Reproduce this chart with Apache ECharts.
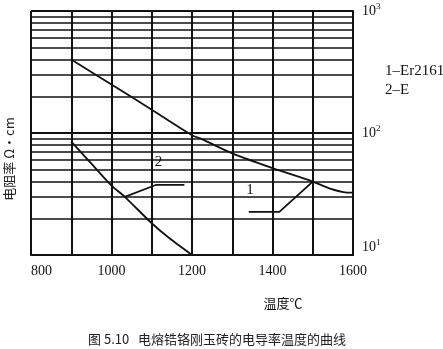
<!DOCTYPE html>
<html><head><meta charset="utf-8">
<script src="https://cdn.jsdelivr.net/npm/echarts@6/dist/echarts.min.js"></script>
<style>html,body{margin:0;padding:0;background:#fff}#c{width:443px;height:349px}</style>
</head><body><div id="c"></div>
<script>
// Temperature axis ticks (°C) and resistivity decades
const xTicks = [800, 900, 1000, 1100, 1200, 1300, 1400, 1500, 1600];
const yDecades = [10, 100, 1000];
const yMinorLines = [20, 30, 40, 50, 60, 70, 80, 90, 200, 300, 400, 500, 600, 700, 800, 900];

// Curve 1 (main, Er2161)
const c1Temp = [900, 1000, 1100, 1200, 1222, 1300, 1400, 1500, 1541, 1585, 1600];
const c1Val  = [400, 250, 155, 96, 90, 68, 51.5, 40, 35.2, 32.5, 32.4];
// Curve 1 branch
const c1bTemp = [1341, 1417, 1500];
const c1bVal  = [22.6, 22.6, 40];
// Curve 2 (main, E)
const c2Temp = [900, 950, 1000, 1033, 1100, 1144, 1200];
const c2Val  = [85, 56, 37, 30, 18.2, 13.7, 10];
// Curve 2 branch
const c2bTemp = [1033, 1110, 1181];
const c2bVal  = [30, 37.5, 37.5];
// Curve number labels position (data coords)
const lab1 = [1344, 34];
const lab2 = [1117, 57.8];

const zip = (a, b) => a.map((x, i) => [x, b[i]]);
const black = '#111';
const serif = '"Liberation Serif", "DejaVu Serif", serif';
const cjk = '"Noto Sans CJK SC", sans-serif';

const chart = echarts.init(document.getElementById('c'), null, {renderer: 'canvas'});
const lineStyle = {color: black, width: 1.8};
const numLabel = t => ({coord: t.pos, symbol: 'rect', symbolSize: 1,
  itemStyle: {color: 'rgba(0,0,0,0)'},
  label: {show: true, position: 'inside', formatter: t.text, fontFamily: serif, fontSize: 15, color: '#111'}});
chart.setOption({
  animation: false,
  backgroundColor: '#fff',
  grid: {left: 31, right: 90, top: 11, bottom: 94, outerBoundsMode: 'none', containLabel: false},
  title: {
    text: '图 5.10   电熔锆铬刚玉砖的电导率温度的曲线',
    left: 83, top: 328,
    textStyle: {fontFamily: cjk, fontSize: 13, fontWeight: 'normal', color: '#222'}
  },
  xAxis: {
    type: 'value', min: xTicks[0], max: xTicks[xTicks.length - 1], interval: 100,
    axisLine: {show: true, lineStyle: {color: black, width: 2}},
    axisTick: {show: false},
    splitLine: {show: true, lineStyle: {color: black, width: 2}},
    axisLabel: {
      margin: 9, color: '#111', fontFamily: serif, fontSize: 14,
      alignMinLabel: 'left',
      formatter: v => (v % 200 === 0 ? String(v) : '')
    },
    name: '温度℃', nameLocation: 'middle', nameGap: 42,
    nameTextStyle: {fontFamily: cjk, fontSize: 13, color: '#111', padding: [0, 0, 0, 182]}
  },
  yAxis: {
    type: 'log', logBase: 10, min: yDecades[0], max: yDecades[yDecades.length - 1],
    position: 'right',
    axisLine: {show: true, lineStyle: {color: black, width: 2}},
    axisTick: {show: false},
    splitLine: {show: true, lineStyle: {color: black, width: 2}},
    axisLabel: {
      margin: 9,
      formatter: v => {
        const e = Math.round(Math.log10(v));
        return e === 1 ? '{lb|10}{ls|' + e + '}' : '{b|10}{s|' + e + '}';
      },
      rich: {
        b: {fontFamily: serif, fontSize: 14, color: '#111'},
        s: {fontFamily: serif, fontSize: 9, color: '#111', padding: [0, 0, 8, 0]},
        lb: {fontFamily: serif, fontSize: 14, color: '#111', padding: [0, 0, 16, 0]},
        ls: {fontFamily: serif, fontSize: 9, color: '#111', padding: [0, 0, 24, 0]}
      }
    }
  },
  graphic: [
    {type: 'text', x: 9, y: 159, rotation: Math.PI / 2,
     style: {text: '电阻率 Ω·cm', fontFamily: cjk, fontSize: 13, fill: '#222', align: 'center', verticalAlign: 'middle'}},
    {type: 'text', x: 385, y: 71,
     style: {text: '1–Er2161', fontFamily: serif, fontSize: 15, fill: '#111', align: 'left', verticalAlign: 'middle'}},
    {type: 'text', x: 385, y: 90,
     style: {text: '2–E', fontFamily: serif, fontSize: 15, fill: '#111', align: 'left', verticalAlign: 'middle'}}
  ],
  series: [
    {type: 'line', data: zip(c1Temp, c1Val), smooth: 0.3, symbol: 'none', lineStyle,
     markLine: {silent: true, symbol: 'none', label: {show: false},
       lineStyle: {color: black, width: 1.5, type: 'solid'},
       data: yMinorLines.map(v => ({yAxis: v}))},
     markPoint: {silent: true, data: [numLabel({pos: lab1, text: '1'}), numLabel({pos: lab2, text: '2'})]}},
    {type: 'line', data: zip(c1bTemp, c1bVal), symbol: 'none', lineStyle},
    {type: 'line', data: zip(c2Temp, c2Val), smooth: 0.2, symbol: 'none', lineStyle},
    {type: 'line', data: zip(c2bTemp, c2bVal), symbol: 'none', lineStyle}
  ]
});
</script></body></html>
